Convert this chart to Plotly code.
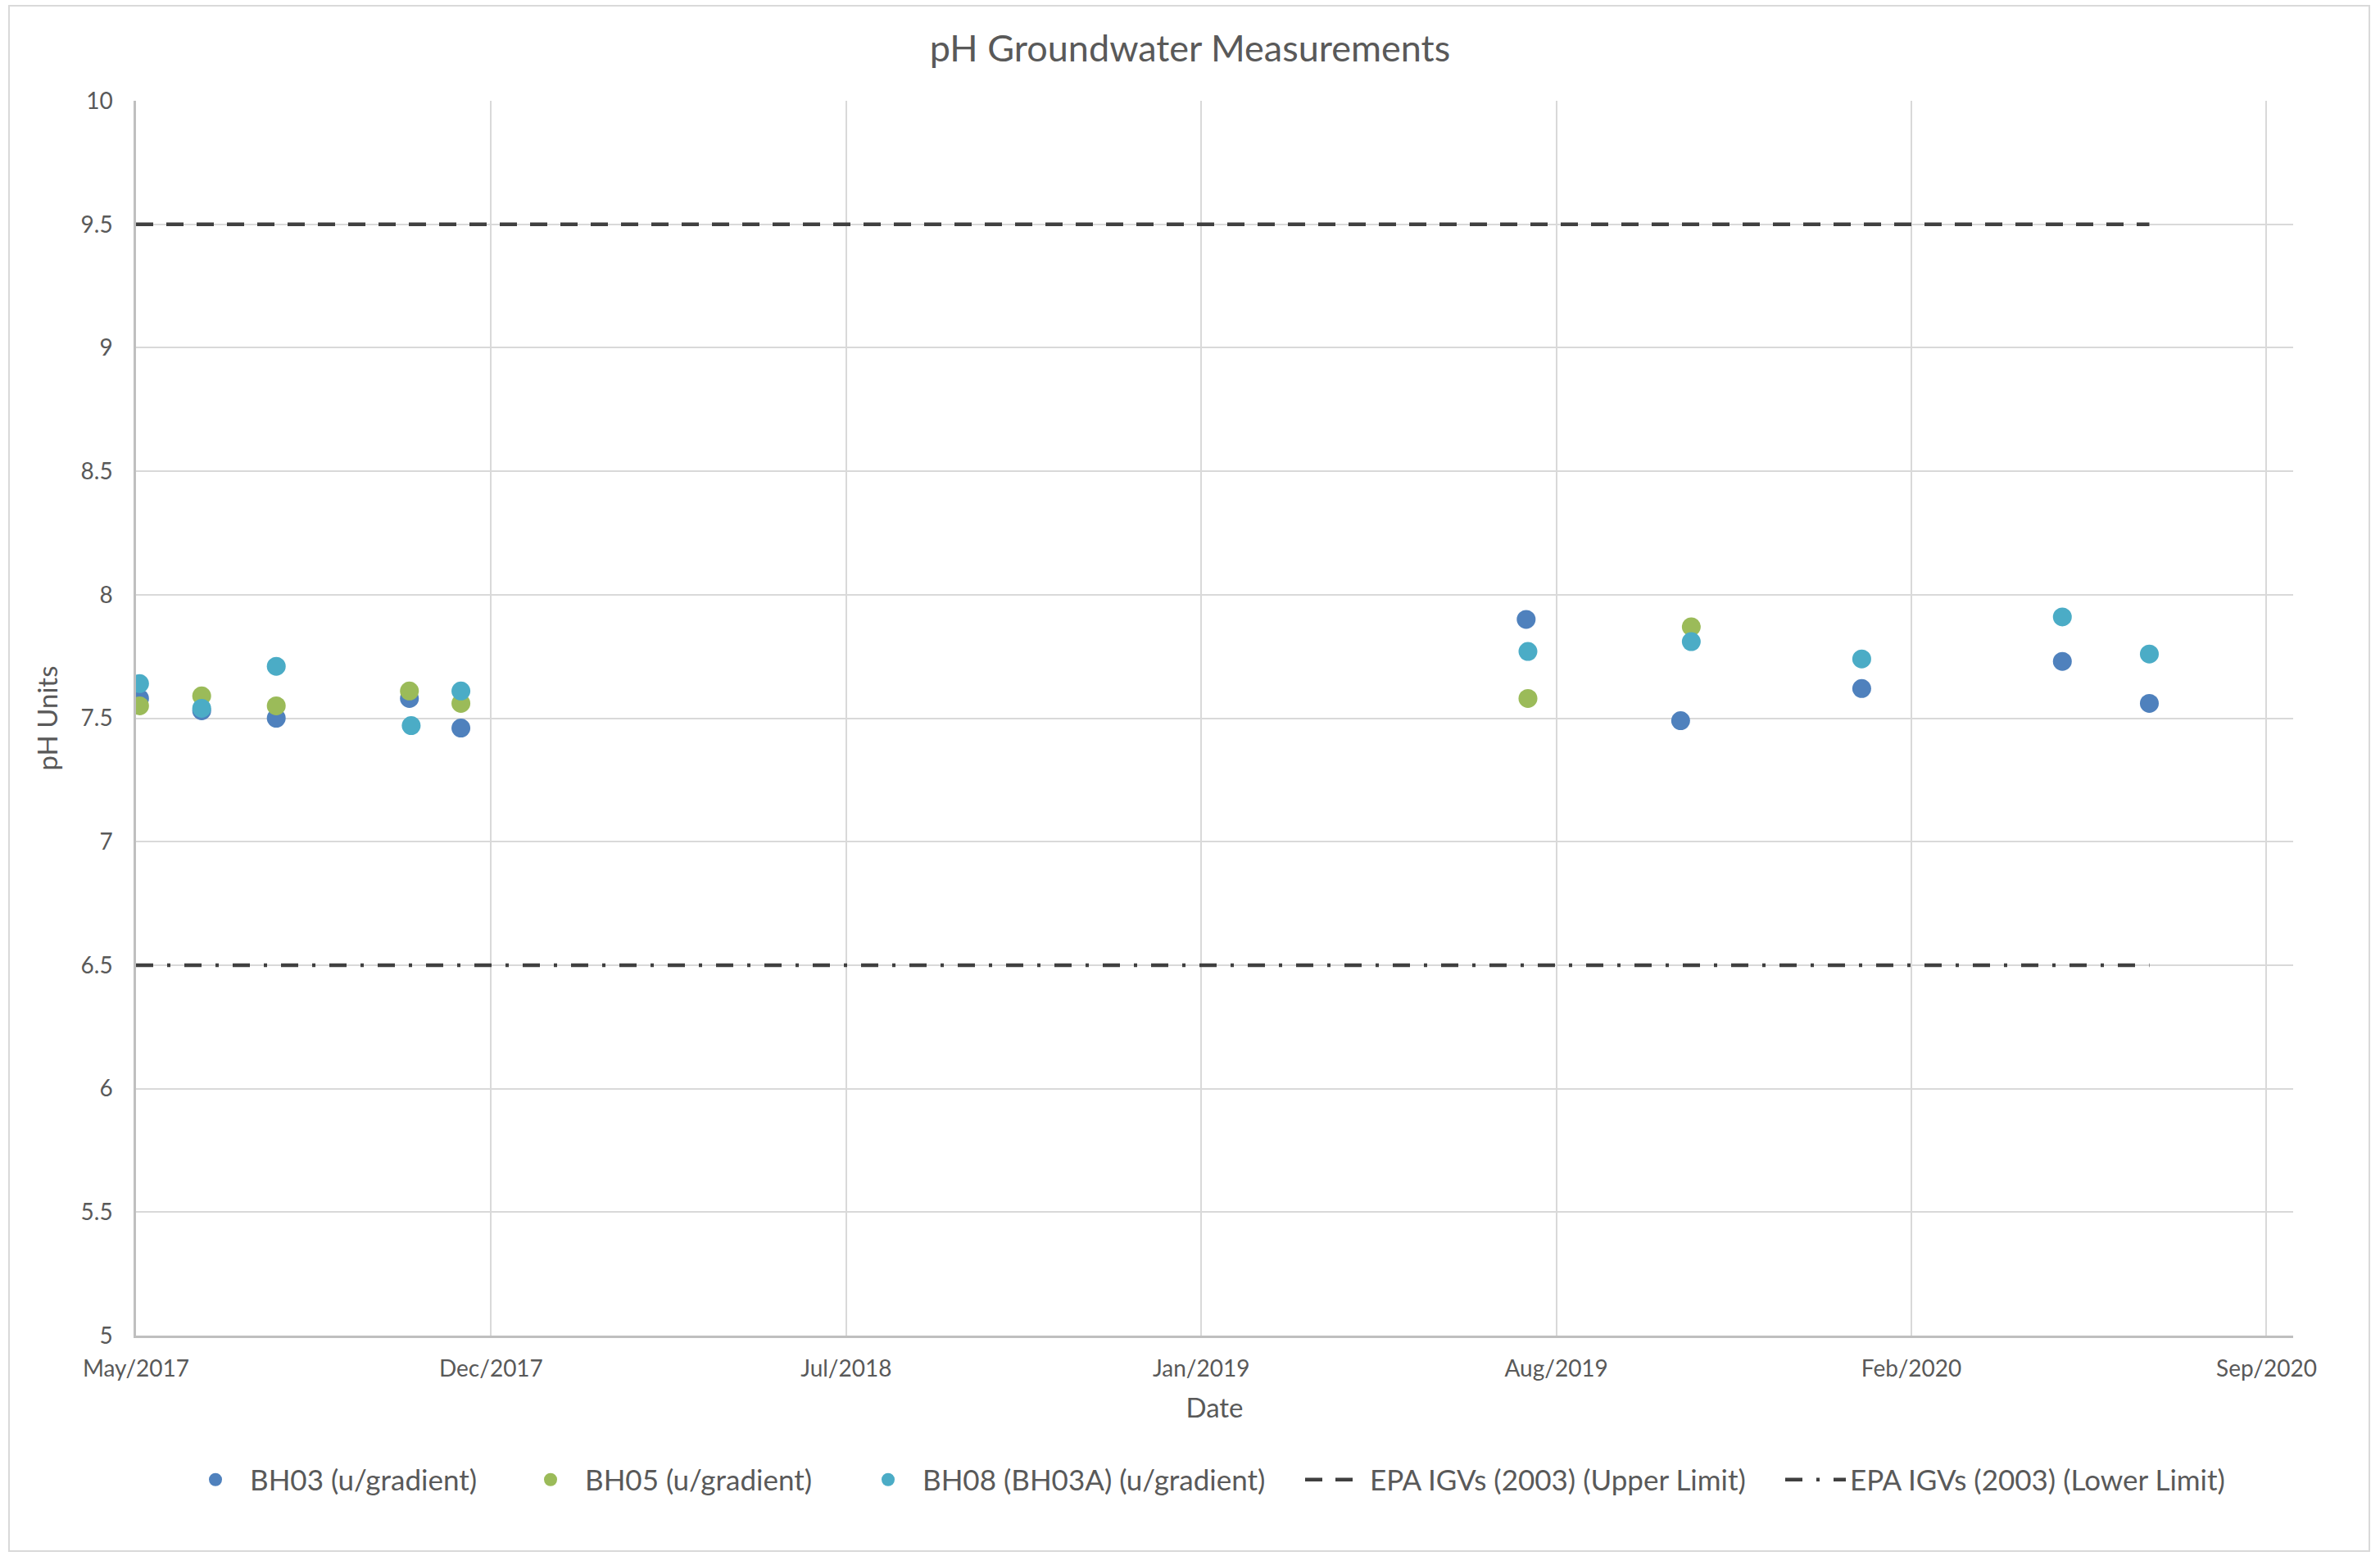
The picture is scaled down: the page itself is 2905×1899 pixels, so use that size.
import plotly.graph_objects as go

# Sampling dates and pH readings per borehole
bh03_dates = ["2017-05-31", "2017-07-05", "2017-08-16", "2017-10-30", "2017-11-28",
              "2019-07-21", "2019-10-16", "2020-01-26", "2020-05-18", "2020-07-06"]
bh03_ph = [7.58, 7.53, 7.50, 7.58, 7.46, 7.90, 7.49, 7.62, 7.73, 7.56]

bh05_dates = ["2017-05-31", "2017-07-05", "2017-08-16", "2017-10-30", "2017-11-28",
              "2019-07-22", "2019-10-22"]
bh05_ph = [7.55, 7.59, 7.55, 7.61, 7.56, 7.58, 7.87]

bh08_dates = ["2017-05-31", "2017-07-05", "2017-08-16", "2017-10-31", "2017-11-28",
              "2019-07-22", "2019-10-22", "2020-01-26", "2020-05-18", "2020-07-06"]
bh08_ph = [7.64, 7.54, 7.71, 7.47, 7.61, 7.77, 7.81, 7.74, 7.91, 7.76]

# EPA Interim Guideline Values (2003) for pH
limit_dates = ["2017-05-29", "2020-07-06"]
upper_limit = [9.5, 9.5]
lower_limit = [6.5, 6.5]

# Date axis extent and tick spacing
axis_start = "2017-05-29"
axis_end = "2020-09-25"
tick_step_days = 200

series_names = ["BH03 (u/gradient)", "BH05 (u/gradient)", "BH08 (BH03A) (u/gradient)",
                "EPA IGVs (2003) (Upper Limit)", "EPA IGVs (2003) (Lower Limit)"]

FONT = "Lato"
TEXT = "#595959"
W, H = 2905, 1899
L, R, T, B = 166, 106, 123, 269

pw = W - L - R
ph = H - T - B


def px_x(v):
    return (v - L) / pw


def px_y(v):
    return (H - B - v) / ph


fig = go.Figure()

legend_ids = ["legend", "legend2", "legend3", "legend4", "legend5"]

for name, xs, ys, col, lg in [
    (series_names[0], bh03_dates, bh03_ph, "#4F81BD", legend_ids[0]),
    (series_names[1], bh05_dates, bh05_ph, "#9BBB59", legend_ids[1]),
    (series_names[2], bh08_dates, bh08_ph, "#4BACC6", legend_ids[2]),
]:
    fig.add_trace(go.Scatter(
        x=xs, y=ys, mode="markers", name=name, legend=lg,
        marker=dict(size=23, color=col, line=dict(width=0)),
    ))

fig.add_trace(go.Scatter(
    x=limit_dates, y=upper_limit, mode="lines", name=series_names[3], legend=legend_ids[3],
    line=dict(color="#404040", width=4.5, dash="21px,16px"),
))
fig.add_trace(go.Scatter(
    x=limit_dates, y=lower_limit, mode="lines", name=series_names[4], legend=legend_ids[4],
    line=dict(color="#404040", width=4.5, dash="21px,17px,4px,17px"),
))

# Outer chart frame
fig.add_shape(type="rect", xref="paper", yref="paper",
              x0=px_x(11), x1=px_x(2892), y0=px_y(1893), y1=px_y(7),
              line=dict(color="#D9D9D9", width=2), layer="below")

legend_style = dict(orientation="h", xanchor="left", y=px_y(1806), yanchor="middle",
                    font=dict(size=35, color=TEXT, family=FONT),
                    bgcolor="rgba(0,0,0,0)")
legend_left_px = [221, 630, 1042, 1588, 2174]
legend_item_w = [74, 74, 74, 74, 74]

layout_legends = {}
for lg, lx, iw in zip(legend_ids, legend_left_px, legend_item_w):
    layout_legends[lg] = dict(legend_style, x=px_x(lx), itemwidth=iw)

fig.update_layout(
    width=W, height=H,
    margin=dict(l=L, r=R, t=T, b=B),
    paper_bgcolor="white", plot_bgcolor="white",
    font=dict(family=FONT, color=TEXT),
    title=dict(text="pH Groundwater Measurements", x=0.5, xanchor="center",
               xref="container", y=1 - 59 / H, yref="container", yanchor="middle",
               font=dict(size=45, color=TEXT, family=FONT)),
    showlegend=True,
    xaxis=dict(
        type="date", range=[axis_start, axis_end],
        tick0=axis_start, dtick=tick_step_days * 86400000, tickformat="%b/%Y",
        showgrid=True, gridcolor="#D9D9D9", gridwidth=2,
        showline=True, linecolor="#BFBFBF", linewidth=2.5,
        zeroline=False, ticks="", ticklabelstandoff=14,
        tickfont=dict(size=28, color=TEXT, family=FONT),
        title=dict(text="Date", font=dict(size=33, color=TEXT, family=FONT), standoff=22),
    ),
    yaxis=dict(
        range=[5, 10], dtick=0.5, tick0=5,
        showgrid=True, gridcolor="#D9D9D9", gridwidth=2,
        showline=True, linecolor="#BFBFBF", linewidth=2.5,
        zeroline=False, ticks="", ticklabelstandoff=20,
        tickfont=dict(size=28, color=TEXT, family=FONT),
        title=dict(text="pH Units", font=dict(size=33, color=TEXT, family=FONT), standoff=19),
    ),
    **layout_legends,
)

fig.write_html("out.html")
